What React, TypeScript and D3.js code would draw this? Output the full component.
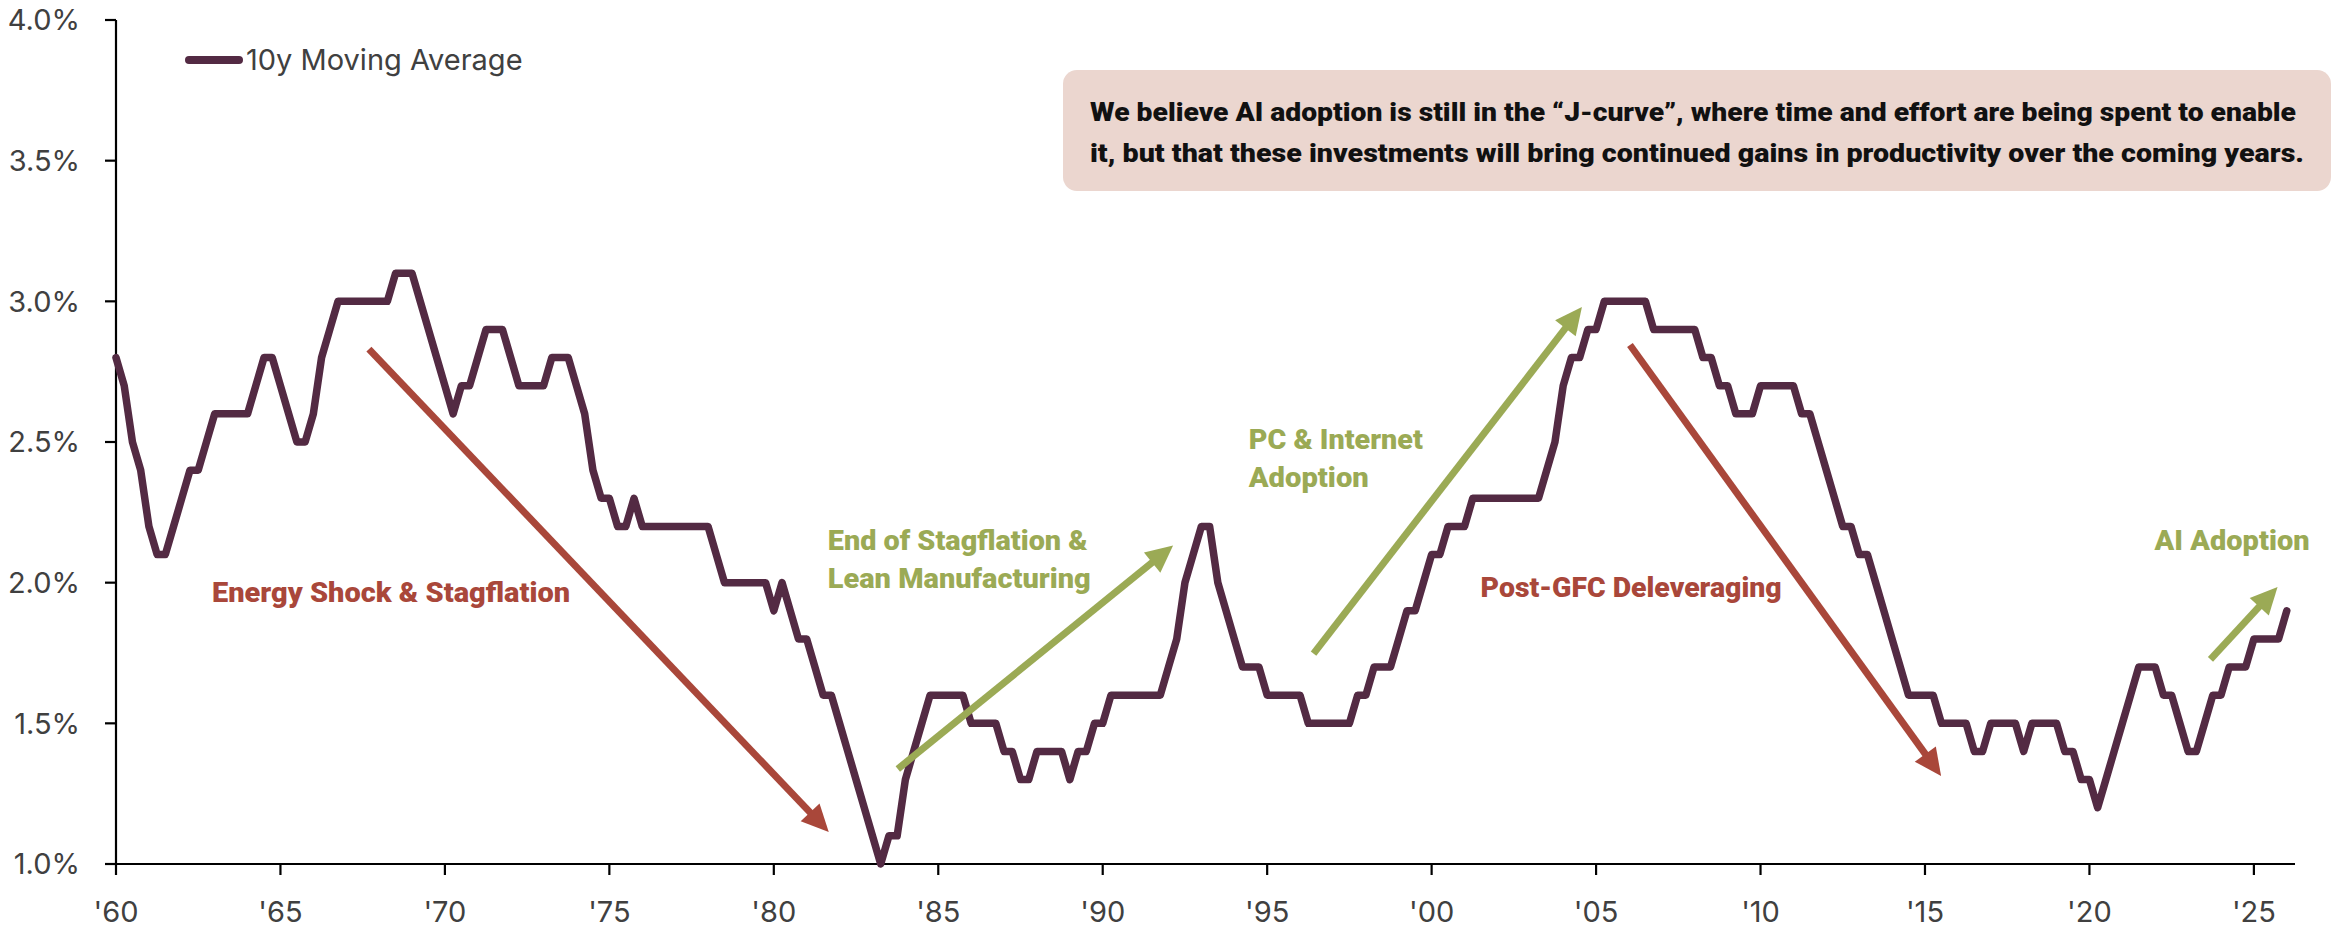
import React from 'react';
import * as d3 from 'd3';

// ---------------- DATA ----------------
const START_YEAR = 1960;
// quarterly 10y moving average of productivity growth (%), 1960Q1 .. 2026Q1
const movingAverage10y: number[] = [
  // 1960
  2.8, 2.7, 2.5, 2.4,
  // 1961
  2.2, 2.1, 2.1, 2.2,
  // 1962
  2.3, 2.4, 2.4, 2.5,
  // 1963
  2.6, 2.6, 2.6, 2.6,
  // 1964
  2.6, 2.7, 2.8, 2.8,
  // 1965
  2.7, 2.6, 2.5, 2.5,
  // 1966
  2.6, 2.8, 2.9, 3.0,
  // 1967
  3.0, 3.0, 3.0, 3.0,
  // 1968
  3.0, 3.0, 3.1, 3.1,
  // 1969
  3.1, 3.0, 2.9, 2.8,
  // 1970
  2.7, 2.6, 2.7, 2.7,
  // 1971
  2.8, 2.9, 2.9, 2.9,
  // 1972
  2.8, 2.7, 2.7, 2.7,
  // 1973
  2.7, 2.8, 2.8, 2.8,
  // 1974
  2.7, 2.6, 2.4, 2.3,
  // 1975
  2.3, 2.2, 2.2, 2.3,
  // 1976
  2.2, 2.2, 2.2, 2.2,
  // 1977
  2.2, 2.2, 2.2, 2.2,
  // 1978
  2.2, 2.1, 2.0, 2.0,
  // 1979
  2.0, 2.0, 2.0, 2.0,
  // 1980
  1.9, 2.0, 1.9, 1.8,
  // 1981
  1.8, 1.7, 1.6, 1.6,
  // 1982
  1.5, 1.4, 1.3, 1.2,
  // 1983
  1.1, 1.0, 1.1, 1.1,
  // 1984
  1.3, 1.4, 1.5, 1.6,
  // 1985
  1.6, 1.6, 1.6, 1.6,
  // 1986
  1.5, 1.5, 1.5, 1.5,
  // 1987
  1.4, 1.4, 1.3, 1.3,
  // 1988
  1.4, 1.4, 1.4, 1.4,
  // 1989
  1.3, 1.4, 1.4, 1.5,
  // 1990
  1.5, 1.6, 1.6, 1.6,
  // 1991
  1.6, 1.6, 1.6, 1.6,
  // 1992
  1.7, 1.8, 2.0, 2.1,
  // 1993
  2.2, 2.2, 2.0, 1.9,
  // 1994
  1.8, 1.7, 1.7, 1.7,
  // 1995
  1.6, 1.6, 1.6, 1.6,
  // 1996
  1.6, 1.5, 1.5, 1.5,
  // 1997
  1.5, 1.5, 1.5, 1.6,
  // 1998
  1.6, 1.7, 1.7, 1.7,
  // 1999
  1.8, 1.9, 1.9, 2.0,
  // 2000
  2.1, 2.1, 2.2, 2.2,
  // 2001
  2.2, 2.3, 2.3, 2.3,
  // 2002
  2.3, 2.3, 2.3, 2.3,
  // 2003
  2.3, 2.3, 2.4, 2.5,
  // 2004
  2.7, 2.8, 2.8, 2.9,
  // 2005
  2.9, 3.0, 3.0, 3.0,
  // 2006
  3.0, 3.0, 3.0, 2.9,
  // 2007
  2.9, 2.9, 2.9, 2.9,
  // 2008
  2.9, 2.8, 2.8, 2.7,
  // 2009
  2.7, 2.6, 2.6, 2.6,
  // 2010
  2.7, 2.7, 2.7, 2.7,
  // 2011
  2.7, 2.6, 2.6, 2.5,
  // 2012
  2.4, 2.3, 2.2, 2.2,
  // 2013
  2.1, 2.1, 2.0, 1.9,
  // 2014
  1.8, 1.7, 1.6, 1.6,
  // 2015
  1.6, 1.6, 1.5, 1.5,
  // 2016
  1.5, 1.5, 1.4, 1.4,
  // 2017
  1.5, 1.5, 1.5, 1.5,
  // 2018
  1.4, 1.5, 1.5, 1.5,
  // 2019
  1.5, 1.4, 1.4, 1.3,
  // 2020
  1.3, 1.2, 1.3, 1.4,
  // 2021
  1.5, 1.6, 1.7, 1.7,
  // 2022
  1.7, 1.6, 1.6, 1.5,
  // 2023
  1.4, 1.4, 1.5, 1.6,
  // 2024
  1.6, 1.7, 1.7, 1.7,
  // 2025
  1.8, 1.8, 1.8, 1.8,
  // 2026
  1.9,
];

const yTickValues = [1.0, 1.5, 2.0, 2.5, 3.0, 3.5, 4.0];
const xTickYears = [1960, 1965, 1970, 1975, 1980, 1985, 1990, 1995, 2000, 2005, 2010, 2015, 2020, 2025];
const xTickLabels = ["'60", "'65", "'70", "'75", "'80", "'85", "'90", "'95", "'00", "'05", "'10", "'15", "'20", "'25"];
const legendLabel = '10y Moving Average';
const calloutLines = [
  'We believe AI adoption is still in the \u201CJ-curve\u201D, where time and effort are being spent to enable',
  'it, but that these investments will bring continued gains in productivity over the coming years.',
];

// arrows: [year, value] from -> to (tip)
const arrowFrom: [number, number][] = [
  [1967.69, 2.83],
  [1983.77, 1.338],
  [1996.41, 1.748],
  [2006.03, 2.845],
  [2023.68, 1.727],
];
const arrowTo: [number, number][] = [
  [1981.67, 1.114],
  [1992.14, 2.132],
  [2004.57, 2.98],
  [2015.49, 1.313],
  [2025.72, 1.985],
];
const arrowKind = ['down', 'up', 'up', 'down', 'up'];

// annotation labels anchored at [year, value]
const labelText: string[][] = [
  ['Energy Shock & Stagflation'],
  ['End of Stagflation &', 'Lean Manufacturing'],
  ['PC & Internet', 'Adoption'],
  ['Post-GFC Deleveraging'],
  ['AI Adoption'],
];
const labelAnchor: [number, number][] = [
  [1962.92, 1.965],
  [1981.64, 2.15],
  [1994.44, 2.51],
  [2001.49, 1.983],
  [2021.98, 2.15],
];
const labelKind = ['down', 'up', 'up', 'down', 'up'];

// ---------------- STYLE ----------------
const W = 2338;
const H = 928;
const LINE_COLOR = '#532A43';
const RED = '#A9473A';
const GREEN = '#9BAA55';
const TEXT_COLOR = '#404040';
const BOX_FILL = '#EBD6CF';
const TICK_FONT = 'Inter, "Noto Sans", sans-serif';
const ANN_FONT = 'Roboto, "Noto Sans", sans-serif';

const labelWidths: number[][] = [[358], [260, 263], [174, 120], [301], [155]];

export default function App() {
  const x = d3.scaleLinear().domain([1960, 2026.25]).range([116, 2295]);
  const y = d3.scaleLinear().domain([1, 4]).range([864, 20]);

  const points: [number, number][] = movingAverage10y.map((v, i) => [START_YEAR + i / 4, v]);
  const line = d3
    .line<[number, number]>()
    .x((d) => x(d[0]))
    .y((d) => y(d[1]));

  const headLen = 27;
  const headHalf = 13;

  React.useEffect(() => {
    document.body.style.margin = '0';
    document.body.style.overflow = 'hidden';
  }, []);

  return (
    <svg
      width={W}
      height={H}
      viewBox={`0 0 ${W} ${H}`}
      style={{ position: 'absolute', left: 0, top: 0, background: '#fff' }}
    >
      <rect x={0} y={0} width={W} height={H} fill="#fff" />

      {/* Y axis */}
      <line x1={x(1960)} x2={x(1960)} y1={y(4)} y2={y(1)} stroke="#000" strokeWidth={2.2} />
      {yTickValues.map((v) => (
        <g key={v}>
          <line x1={x(1960) - 11} x2={x(1960)} y1={y(v)} y2={y(v)} stroke="#000" strokeWidth={2.2} />
          <text
            x={80}
            y={y(v)}
            dy="0.36em"
            textAnchor="end"
            fontFamily={TICK_FONT}
            fontSize={29}
            fill={TEXT_COLOR}
          >
            {v.toFixed(1) + '%'}
          </text>
        </g>
      ))}

      {/* X axis */}
      <line x1={x(1960)} x2={x(2026.25)} y1={y(1)} y2={y(1)} stroke="#000" strokeWidth={2.2} />
      {xTickYears.map((yr, i) => (
        <g key={yr}>
          <line x1={x(yr)} x2={x(yr)} y1={y(1)} y2={y(1) + 11} stroke="#000" strokeWidth={2.2} />
          <text
            x={x(yr)}
            y={922}
            textAnchor="middle"
            fontFamily={TICK_FONT}
            fontSize={29}
            fill={TEXT_COLOR}
          >
            {xTickLabels[i]}
          </text>
        </g>
      ))}

      {/* Data line */}
      <path
        d={line(points) || ''}
        fill="none"
        stroke={LINE_COLOR}
        strokeWidth={7.5}
        strokeLinejoin="round"
        strokeLinecap="round"
      />

      {/* Arrows */}
      {arrowFrom.map((f, i) => {
        const t = arrowTo[i];
        const x0 = x(f[0]);
        const y0 = y(f[1]);
        const x1 = x(t[0]);
        const y1 = y(t[1]);
        const len = Math.hypot(x1 - x0, y1 - y0);
        const ux = (x1 - x0) / len;
        const uy = (y1 - y0) / len;
        const bx = x1 - ux * headLen;
        const by = y1 - uy * headLen;
        const color = arrowKind[i] === 'up' ? GREEN : RED;
        const head = [
          [x1, y1],
          [bx - uy * headHalf, by + ux * headHalf],
          [bx + uy * headHalf, by - ux * headHalf],
        ];
        return (
          <g key={i}>
            <line x1={x0} y1={y0} x2={bx + ux * 2} y2={by + uy * 2} stroke={color} strokeWidth={7} />
            <polygon points={head.map((p) => p.join(',')).join(' ')} fill={color} />
          </g>
        );
      })}

      {/* Annotation labels */}
      {labelText.map((lines, i) =>
        lines.map((s, j) => (
          <text
            key={`${i}-${j}`}
            x={x(labelAnchor[i][0])}
            y={y(labelAnchor[i][1]) + j * 38}
            dy="0.36em"
            fontFamily={ANN_FONT}
            fontWeight={900}
            fontSize={27}
            fill={labelKind[i] === 'up' ? GREEN : RED}
            textLength={labelWidths[i][j]}
            lengthAdjust="spacingAndGlyphs"
          >
            {s}
          </text>
        ))
      )}

      {/* Legend */}
      <line x1={189} x2={239} y1={60} y2={60} stroke={LINE_COLOR} strokeWidth={8} strokeLinecap="round" />
      <text x={246} y={60} dy="0.36em" fontFamily={TICK_FONT} fontSize={29} fill={TEXT_COLOR}>
        {legendLabel}
      </text>

      {/* Callout box */}
      <rect x={1063} y={70} width={1268} height={121} rx={14} ry={14} fill={BOX_FILL} />
      {calloutLines.map((s, i) => (
        <text
          key={i}
          x={1090}
          y={112 + i * 41}
          dy="0.36em"
          fontFamily={ANN_FONT}
          fontWeight={900}
          fontSize={26}
          fill="#111"
          textLength={i === 0 ? 1206 : 1214}
          lengthAdjust="spacingAndGlyphs"
        >
          {s}
        </text>
      ))}
    </svg>
  );
}
